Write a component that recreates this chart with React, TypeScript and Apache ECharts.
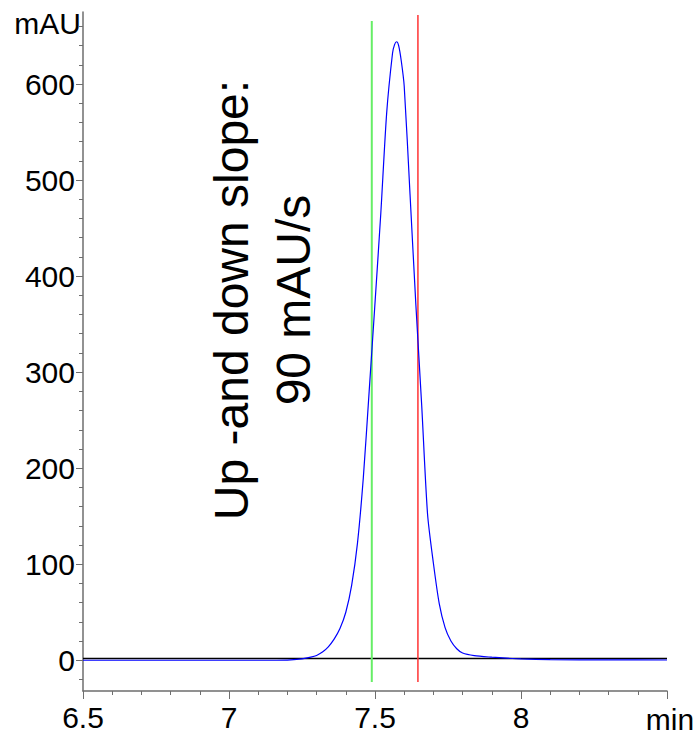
import React, { useEffect, useRef } from "react";
import * as echarts from "echarts";

// Chromatogram signal (time in min, signal in mAU)
const timeMin = [
  6.5, 6.8, 7.0, 7.1, 7.2, 7.25, 7.28, 7.3, 7.32, 7.34, 7.36, 7.38, 7.4, 7.42, 7.44, 7.46,
  7.48, 7.5, 7.52, 7.54, 7.56, 7.567, 7.574, 7.581, 7.59, 7.6, 7.62, 7.64, 7.66, 7.68,
  7.7, 7.72, 7.74, 7.76, 7.78, 7.8, 7.84, 7.9, 7.95, 8.0, 8.1, 8.3, 8.5,
];
const signalMAU = [
  0, 0, 0, 0, 0.2, 1.5, 3.2, 5, 8.5, 14, 22, 33, 50, 78, 122, 190,
  280, 372, 466, 570, 632, 641, 644, 640, 624, 598, 485, 370, 265, 152,
  101, 59, 34, 20, 12, 7.5, 4.8, 3.2, 2.2, 1.4, 0.7, 0.4, 0.3,
];

// Integration markers
const startMarkerTime = 7.489;
const startMarkerRange = [-22.6, 665.6];
const endMarkerTime = 7.647;
const endMarkerRange = [-22.6, 672];
const baselineLevel = 1.8;

// Axes
const xRange = [6.5, 8.5];
const yRange = [-32, 675];
const yMajorTicks = [0, 100, 200, 300, 400, 500, 600];
const yMinorTicks = [
  -20, 20, 40, 60, 80, 120, 140, 160, 180, 220, 240, 260, 280, 320, 340, 360, 380,
  420, 440, 460, 480, 520, 540, 560, 580, 620, 640, 660,
];
const xTickLabels = ["6.5", "7", "7.5", "8"];

const annotationLines = ["Up -and down slope:", "90 mAU/s"];
const yUnit = "mAU";
const xUnit = "min";

const FONT = "'Liberation Sans', Arial, Helvetica, sans-serif";

export default function App() {
  const ref = useRef<HTMLDivElement>(null);

  useEffect(() => {
    if (!ref.current) return;
    const chart = echarts.init(ref.current, null, { renderer: "svg" });
    const axisGray = "#6e6e6e";
    chart.setOption({
      animation: false,
      backgroundColor: "#ffffff",
      grid: { left: 83, right: 30, top: 12, bottom: 44, containLabel: false },
      xAxis: {
        type: "value",
        min: xRange[0],
        max: xRange[1],
        interval: 0.5,
        axisLine: { onZero: false, lineStyle: { color: axisGray, width: 1.5 } },
        axisTick: { length: 8, lineStyle: { color: axisGray, width: 1 } },
        minorTick: { show: true, splitNumber: 5, length: 4, lineStyle: { color: axisGray, width: 1 } },
        splitLine: { show: false },
        axisLabel: {
          margin: 11,
          fontSize: 30,
          fontFamily: FONT,
          color: "#000",
          showMaxLabel: false,
          formatter: (v: number) => {
            const s = String(v);
            return xTickLabels.includes(s) ? s : "";
          },
        },
      },
      yAxis: [
        {
          type: "value",
          min: yRange[0],
          max: yRange[1],
          axisLine: { show: true, onZero: false, lineStyle: { color: axisGray, width: 1.5 } },
          axisTick: { show: true, length: 7, customValues: yMajorTicks, lineStyle: { color: axisGray, width: 1 } },
          splitLine: { show: false },
          axisLabel: {
            margin: 8,
            fontSize: 30,
            fontFamily: FONT,
            color: "#000",
            customValues: yMajorTicks,
          },
        },
        {
          type: "value",
          min: yRange[0],
          max: yRange[1],
          position: "left",
          axisLine: { show: false },
          axisTick: { show: true, length: 4, customValues: yMinorTicks, lineStyle: { color: axisGray, width: 1 } },
          splitLine: { show: false },
          axisLabel: { show: false },
        },
      ],
      series: [
        {
          type: "line",
          data: [
            [xRange[0], baselineLevel],
            [xRange[1], baselineLevel],
          ],
          symbol: "none",
          lineStyle: { color: "#000", width: 1.5 },
          silent: true,
        },
        {
          type: "line",
          data: [
            [startMarkerTime, startMarkerRange[0]],
            [startMarkerTime, startMarkerRange[1]],
          ],
          symbol: "none",
          lineStyle: { color: "#66ee66", width: 2 },
          silent: true,
        },
        {
          type: "line",
          data: [
            [endMarkerTime, endMarkerRange[0]],
            [endMarkerTime, endMarkerRange[1]],
          ],
          symbol: "none",
          lineStyle: { color: "#ff3333", width: 1.5 },
          silent: true,
        },
        {
          type: "line",
          data: timeMin.map((t, i) => [t, signalMAU[i]]),
          symbol: "none",
          smooth: 0.25,
          lineStyle: { color: "#0000ff", width: 1.2 },
          silent: true,
        },
      ],
      graphic: [
        {
          type: "text",
          x: 81,
          y: 23,
          style: {
            text: yUnit,
            fontSize: 30,
            fontFamily: FONT,
            fill: "#000",
            align: "right",
            verticalAlign: "middle",
          },
        },
        {
          type: "text",
          x: 670,
          y: 719,
          style: {
            text: xUnit,
            fontSize: 30,
            fontFamily: FONT,
            fill: "#000",
            align: "center",
            verticalAlign: "middle",
          },
        },
        {
          type: "text",
          x: 262,
          y: 300,
          rotation: Math.PI / 2,
          style: {
            text: annotationLines.join("\n"),
            fontSize: 48,
            lineHeight: 62,
            fontFamily: FONT,
            fill: "#000",
            align: "center",
            verticalAlign: "middle",
          },
        },
      ],
    });
    return () => chart.dispose();
  }, []);

  return (
    <div
      ref={ref}
      style={{ position: "fixed", left: 0, top: 0, width: 697, height: 735 }}
    />
  );
}
